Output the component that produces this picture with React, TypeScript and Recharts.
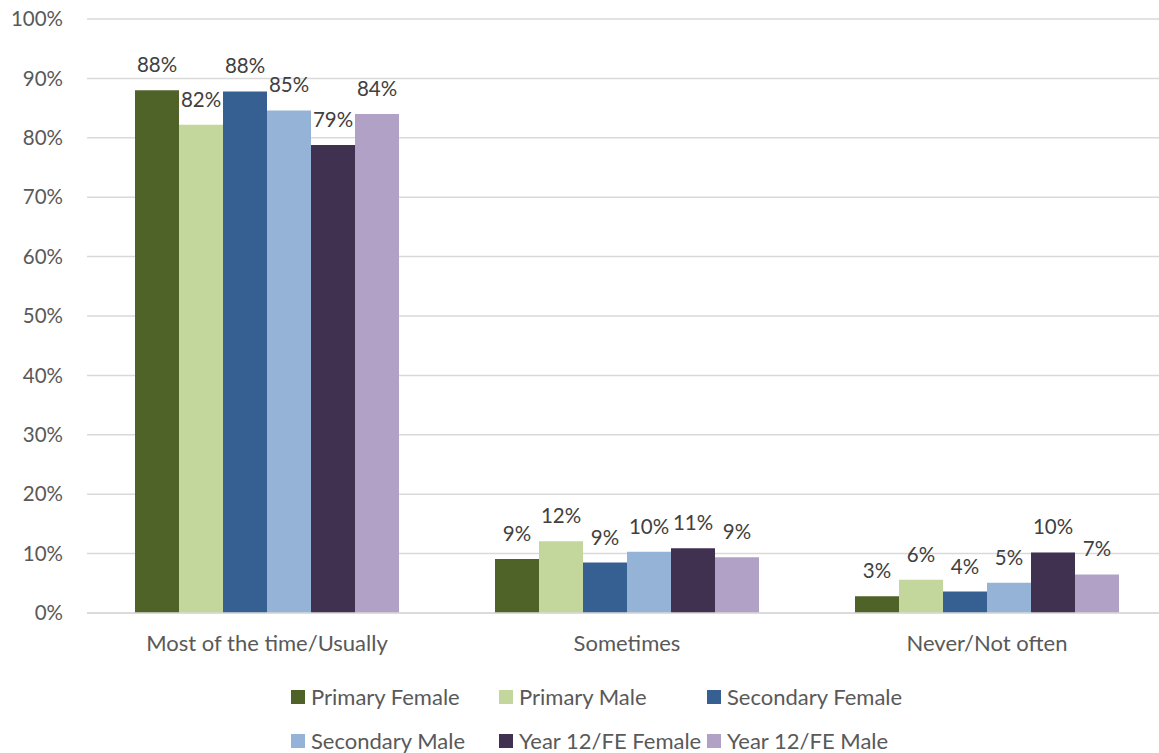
import React from 'react';
import { BarChart, Bar, XAxis, YAxis, CartesianGrid, LabelList, Legend } from 'recharts';

const categories = ['Most of the time/Usually', 'Sometimes', 'Never/Not often'];
const seriesNames = [
  'Primary Female',
  'Primary Male',
  'Secondary Female',
  'Secondary Male',
  'Year 12/FE Female',
  'Year 12/FE Male',
];
const seriesColors = ['#4F6228', '#C3D69B', '#366092', '#95B3D7', '#403151', '#B2A1C7'];

const primaryFemale = [88.0, 9.1, 2.8];
const primaryMale = [82.2, 12.1, 5.6];
const secondaryFemale = [87.8, 8.5, 3.6];
const secondaryMale = [84.6, 10.3, 5.1];
const year12Female = [78.8, 10.9, 10.2];
const year12Male = [84.0, 9.4, 6.5];

const yTicks = [0, 10, 20, 30, 40, 50, 60, 70, 80, 90, 100];

const seriesValues = [primaryFemale, primaryMale, secondaryFemale, secondaryMale, year12Female, year12Male];

const data = categories.map((c, i) => {
  const row: Record<string, string | number> = { category: c };
  seriesValues.forEach((vals, s) => {
    row['s' + s] = vals[i];
  });
  return row;
});

const FONT = 'Lato, "Open Sans", sans-serif';
const AXIS_COLOR = '#595959';
const LABEL_COLOR = '#404040';
const TEXT_SIZE = 22;
const NUM_SIZE = 20.5;

const legendRows = [
  { top: 17, lefts: [291, 499, 707], items: [0, 1, 2] },
  { top: 61, lefts: [291, 499, 707], items: [3, 4, 5] },
];

const renderLegend = () => (
  <div style={{ position: 'relative', width: 1168, height: 72, fontFamily: FONT }}>
    {legendRows.map((row, r) =>
      row.items.map((s, k) => (
        <div
          key={r + '-' + k}
          style={{
            position: 'absolute',
            left: row.lefts[k],
            top: row.top - 11,
            height: 22,
            display: 'flex',
            alignItems: 'center',
            whiteSpace: 'nowrap',
          }}
        >
          <span
            style={{
              display: 'inline-block',
              width: 14,
              height: 14,
              background: seriesColors[s],
              marginRight: 6,
            }}
          />
          <span style={{ fontSize: TEXT_SIZE, color: AXIS_COLOR, lineHeight: '22px', height: 22 }}>
            {seriesNames[s]}
          </span>
        </div>
      ))
    )}
  </div>
);

export default function App() {
  return (
    <div
      style={{
        position: 'fixed',
        left: 0,
        top: 0,
        width: 1159,
        height: 753,
        overflow: 'hidden',
        background: '#fff',
      }}
    >
      <BarChart
        width={1168}
        height={753}
        data={data}
        margin={{ top: 19, right: 1, bottom: 100, left: 0 }}
        barCategoryGap={48}
        barGap={0}
        style={{ fontFamily: FONT }}
      >
        <CartesianGrid vertical={false} stroke="#D9D9D9" strokeWidth={1.5} />
        <XAxis
          dataKey="category"
          height={40}
          axisLine={{ stroke: '#D9D9D9', strokeWidth: 1.5 }}
          tickLine={false}
          tickSize={0}
          tickMargin={22}
          tick={{ fill: AXIS_COLOR, fontSize: TEXT_SIZE, fontFamily: FONT }}
          interval={0}
        />
        <YAxis
          width={87}
          domain={[0, 100]}
          ticks={yTicks}
          tickFormatter={(v: number) => v + '%'}
          axisLine={false}
          tickLine={false}
          tickSize={0}
          tickMargin={24}
          tick={{ fill: AXIS_COLOR, fontSize: NUM_SIZE, fontFamily: FONT }}
          interval={0}
        />
        <Legend
          layout="horizontal"
          verticalAlign="middle"
          align="center"
          wrapperStyle={{ left: 0, top: 680, width: 1168, height: 72 }}
          content={renderLegend}
        />
        {seriesNames.map((name, s) => (
          <Bar
            key={name}
            dataKey={'s' + s}
            name={name}
            fill={seriesColors[s]}
            isAnimationActive={false}
          >
            <LabelList
              dataKey={'s' + s}
              position="top"
              offset={18}
              formatter={(v: number) => Math.round(v) + '%'}
              style={{ fill: LABEL_COLOR, fontSize: NUM_SIZE, fontFamily: FONT }}
            />
          </Bar>
        ))}
      </BarChart>
    </div>
  );
}
